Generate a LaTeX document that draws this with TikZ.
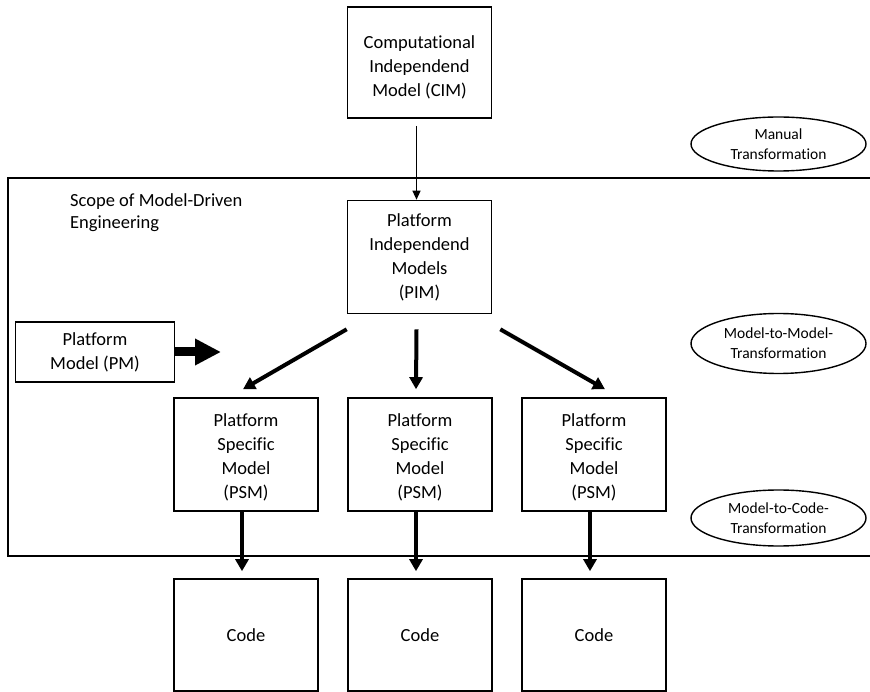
\documentclass[tikz,border=0pt]{standalone}
\usepackage{fontspec}
\setmainfont{Carlito}[Ligatures=NoCommon]
\usetikzlibrary{arrows.meta,shapes.geometric,calc}
% centred lines, moved down by #1 without changing the node's size
\newcommand{\droplines}[2]{\raisebox{-#1}[\height][\depth]{\begin{tabular}{@{}c@{}}#2\end{tabular}}}
\tikzset{
  box/.style={draw,line width=1.6pt,minimum width=144pt,align=center,inner sep=2pt,
    font=\fontsize{18.5}{24}\selectfont},
  oval/.style={draw,ellipse,line width=1.4pt,minimum width=175pt,align=center,inner sep=0pt,
    font=\fontsize{15.5}{20}\selectfont},
  thinarrow/.style={line width=1.3pt,-{Triangle[length=9pt,width=8pt]}},
  fatarrow/.style={line width=4pt,-{Triangle[length=12pt,width=13pt]}},
}
\begin{document}
\begin{tikzpicture}[x=1pt,y=-1pt]
\useasboundingbox (0,0) rectangle (870,692);

% scope of MDE (open on the right)
\draw[line width=1.5pt] (871,178) -- (8,178) -- (8,556) -- (871,556);
\node[anchor=north west,align=left,inner sep=0pt,font=\fontsize{18.5}{22}\selectfont]
  (scope) at (70,193) {Scope of Model-Driven\\Engineering};

% model boxes
\node[box,minimum height=111pt] (cim) at (419.5,62.5)
  {\droplines{5pt}{Computational\\Independend\\Model (CIM)}};
\node[box,minimum height=113pt] (pim) at (419.5,257) {Platform\\Independend\\Models\\(PIM)};
\node[box,minimum width=159pt,minimum height=60pt] (pm) at (95,352) {Platform\\Model (PM)};

\foreach \i/\x in {1/246,2/420,3/594}{
  \node[box,minimum height=113pt] (psm\i) at (\x,454.5)
    {\droplines{3pt}{Platform\\Specific\\Model\\(PSM)}};
  \node[box,minimum height=112pt] (code\i) at (\x,635) {Code};
}

% transformation labels
\node[oval,minimum height=54pt] (manual) at (778.5,144) {Manual\\Transformation};
\node[oval,minimum height=60pt] (m2m) at (778.5,343.5) {Model-to-Model-\\Transformation};
\node[oval,minimum height=56pt] (m2c) at (778.5,518) {Model-to-Code-\\Transformation};

% connectors
\draw[thinarrow] ($(cim.south)+(-3,7)$) -- ($(pim.north)+(-3,0)$);
\draw[fatarrow] ($(pim.south west)+(0,15)$) -- ($(psm1.north)+(-3,-8)$);
\draw[fatarrow] ($(pim.south)+(-3,15)$) -- ($(psm2.north)+(-4,-8)$);
\draw[fatarrow] ($(pim.south east)+(8,15)$) -- ($(psm3.north)+(11,-8)$);
\foreach \i in {1,2,3}{
  \draw[fatarrow] ($(psm\i.south)+(-4,0)$) -- ($(code\i.north)+(-4,-7)$);
}
\coordinate (pmtip) at (221,352);
\draw[line width=9pt,-{Triangle[length=26pt,width=25pt]}] (pm.east) -- (pmtip);
\end{tikzpicture}
\end{document}
